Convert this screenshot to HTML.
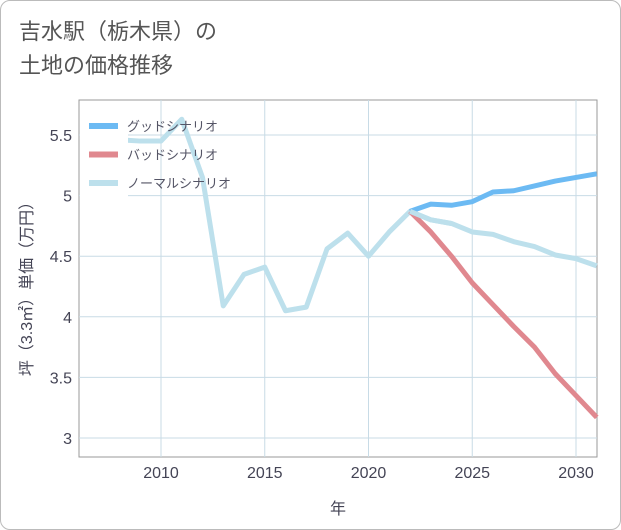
<!DOCTYPE html>
<html><head><meta charset="utf-8"><style>
body{margin:0;background:#fff;}
#wrap{position:relative;width:619px;height:528px;border:1px solid #bbb;border-radius:10px;overflow:hidden;background:#fff;}
.title{position:absolute;left:18px;top:14px;font:22px "Liberation Sans","Noto Sans CJK JP",sans-serif;color:#555;line-height:34px;}
svg text{font-family:"Liberation Sans","Noto Sans CJK JP",sans-serif;}
</style></head><body>
<div id="wrap">
<div class="title">吉水駅（栃木県）の<br>土地の価格推移</div>
<svg id="chart" width="621" height="530" style="position:absolute;left:-1px;top:-1px"></svg>
</div>
<script>
const normalYears=[2008,2009,2010,2011,2012,2013,2014,2015,2016,2017,2018,2019,2020,2021,2022,2023,2024,2025,2026,2027,2028,2029,2030,2031];
const normalVals=[5.46,5.45,5.45,5.63,5.15,4.09,4.35,4.41,4.05,4.08,4.56,4.69,4.5,4.7,4.87,4.8,4.77,4.7,4.68,4.62,4.58,4.51,4.48,4.42];
const futureYears=[2022,2023,2024,2025,2026,2027,2028,2029,2030,2031];
const goodVals=[4.87,4.93,4.92,4.95,5.03,5.04,5.08,5.12,5.15,5.18];
const badVals=[4.87,4.70,4.50,4.28,4.10,3.92,3.75,3.53,3.35,3.17];
const xTicks=[2010,2015,2020,2025,2030];
const yTicks=[3,3.5,4,4.5,5,5.5];
const yLabels=["3","3.5","4","4.5","5","5.5"];
const ns="http://www.w3.org/2000/svg";
const svg=document.getElementById('chart');
const L=79,R=597,T=100,B=457;
const x=v=>161+(v-2010)*20.75;
const y=v=>438-(v-3)*121.2;
function mk(t,a){const e=document.createElementNS(ns,t);for(const k in a)e.setAttribute(k,a[k]);svg.appendChild(e);return e;}
const bg=mk('rect',{x:L,y:T,width:R-L,height:B-T,fill:'#fff',stroke:'#999'});


xTicks.forEach(t=>{const l=mk('line',{x1:x(t),x2:x(t),y1:T,y2:B,stroke:'#c8dbe6'});


const tx=mk('text',{x:x(t),y:478,'text-anchor':'middle','font-size':16,fill:'#445'});tx.textContent=t;

});
yTicks.forEach((t,i)=>{const l=mk('line',{x1:L,x2:R,y1:y(t),y2:y(t),stroke:'#c8dbe6'});


const tx=mk('text',{x:72,y:y(t)+6,'text-anchor':'end','font-size':16,fill:'#445'});tx.textContent=yLabels[i];

});
function line(xs,vs,c,n){const p=mk('polyline',{points:xs.map((v,i)=>x(v)+','+y(vs[i])).join(' '),fill:'none',stroke:c,'stroke-width':5,'stroke-linejoin':'round'});

}
line(normalYears,normalVals,'#bde0ec','normal-scenario-line');
line(futureYears,badVals,'#e0888f','bad-scenario-line');
line(futureYears,goodVals,'#6cbaf3','good-scenario-line');
line(futureYears.slice(0,3),normalVals.slice(14,17),'#bde0ec','normal-scenario-overlay');
const lg=mk('rect',{x:80,y:108,width:48,height:92,fill:'#fff'});


[['グッドシナリオ','#6cbaf3'],['バッドシナリオ','#e0888f'],['ノーマルシナリオ','#bde0ec']].forEach((d,i)=>{
const yy=126+i*28.5;
const l=mk('line',{x1:89,x2:118,y1:yy,y2:yy,stroke:d[1],'stroke-width':6});


const t=mk('text',{x:127,y:yy+5,'font-size':13,fill:'#556'});t.textContent=d[0];

});
const xt=mk('text',{x:338,y:514,'text-anchor':'middle','font-size':16,fill:'#445'});xt.textContent='年';


const yt=mk('text',{x:0,y:0,'text-anchor':'middle','font-size':16,fill:'#445',transform:'translate(32,285) rotate(-90)'});yt.textContent='坪（3.3㎡）単価（万円）';


</script>
</body></html>
